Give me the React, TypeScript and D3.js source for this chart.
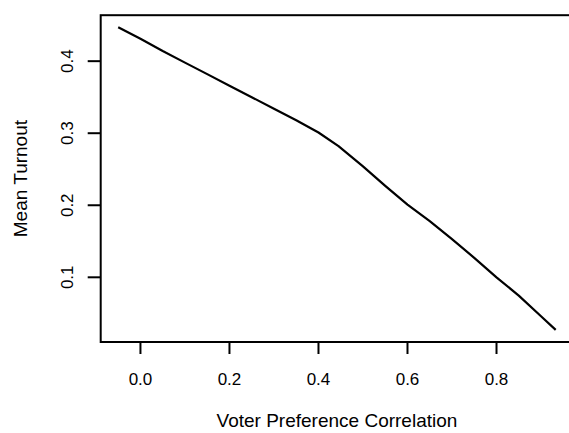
import React from "react";
import * as d3 from "d3";

const correlation = [-0.05, 0.0, 0.05, 0.1, 0.15, 0.2, 0.25, 0.3, 0.35, 0.4, 0.445, 0.5, 0.55, 0.6, 0.65, 0.7, 0.75, 0.8, 0.85, 0.9, 0.933];
const meanTurnout = [0.447, 0.431, 0.414, 0.398, 0.382, 0.366, 0.350, 0.334, 0.318, 0.301, 0.282, 0.254, 0.227, 0.201, 0.178, 0.153, 0.127, 0.100, 0.0745, 0.046, 0.027];
const xTicks = [0.0, 0.2, 0.4, 0.6, 0.8];
const yTicks = [0.1, 0.2, 0.3, 0.4];
const xTitle = "Voter Preference Correlation";
const yTitle = "Mean Turnout";

function extend(vals: number[]): [number, number] {
  const [a, b] = d3.extent(vals) as [number, number];
  const r = (b - a) * 0.04;
  return [a - r, b + r];
}

export default function App() {
  const W = 569, H = 433;
  const left = 100.7, right = 573.2, top = 15.2, bottom = 342;
  const x = d3.scaleLinear().domain(extend(correlation)).range([left, right]);
  const y = d3.scaleLinear().domain(extend(meanTurnout)).range([bottom, top]);
  const pts = correlation.map((c, i) => [c, meanTurnout[i]] as [number, number]);
  const line = d3.line<[number, number]>().x(d => x(d[0])).y(d => y(d[1]));
  const font = "'Liberation Sans', Arial, Helvetica, sans-serif";
  const midY = (top + bottom) / 2;
  const midX = (left + right) / 2;
  return (
    <svg width={W} height={H} style={{ position: "absolute", left: 0, top: 0, display: "block", background: "#fff" }} fontFamily={font}>
      <rect x={0} y={0} width={W} height={H} fill="#fff" />
      <rect x={left} y={top} width={right - left} height={bottom - top} fill="none" stroke="#000" strokeWidth={2} />
      <path d={line(pts) || ""} fill="none" stroke="#000" strokeWidth={2.2} strokeLinejoin="round" />
      {xTicks.map(t => (
        <g key={"x" + t}>
          <line x1={x(t)} x2={x(t)} y1={bottom} y2={bottom + 12} stroke="#000" strokeWidth={2} />
          <text x={x(t)} y={385} textAnchor="middle" fontSize={17} fill="#000">{t.toFixed(1)}</text>
        </g>
      ))}
      {yTicks.map(t => (
        <g key={"y" + t}>
          <line x1={left - 13} x2={left} y1={y(t)} y2={y(t)} stroke="#000" strokeWidth={2} />
          <text transform={`translate(73,${y(t)}) rotate(-90)`} textAnchor="middle" fontSize={17} fill="#000">{t.toFixed(1)}</text>
        </g>
      ))}
      <text x={midX} y={427} textAnchor="middle" fontSize={19} fill="#000">{xTitle}</text>
      <text transform={`translate(27,${midY}) rotate(-90)`} textAnchor="middle" fontSize={19} fill="#000">{yTitle}</text>
    </svg>
  );
}
